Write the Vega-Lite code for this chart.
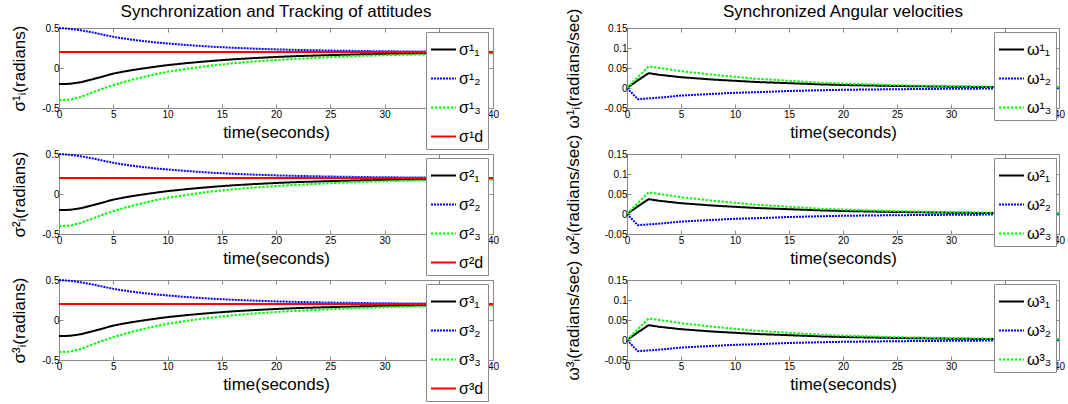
{
  "$schema": "https://vega.github.io/schema/vega-lite/v6.json",
  "background": "white",
  "padding": {"left": 10, "top": 2, "right": 5, "bottom": 5},
  "datasets": {
    "sig": [
      {"t": 0, "s": "1", "v": -0.2}, {"t": 1, "s": "1", "v": -0.198}, {"t": 2, "s": "1", "v": -0.178}, {"t": 3, "s": "1", "v": -0.145}, {"t": 4, "s": "1", "v": -0.108}, {"t": 5, "s": "1", "v": -0.07}, {"t": 6, "s": "1", "v": -0.044}, {"t": 7, "s": "1", "v": -0.021}, {"t": 8, "s": "1", "v": -0.001}, {"t": 9, "s": "1", "v": 0.018}, {"t": 10, "s": "1", "v": 0.036}, {"t": 12, "s": "1", "v": 0.064}, {"t": 14, "s": "1", "v": 0.088}, {"t": 16, "s": "1", "v": 0.108}, {"t": 18, "s": "1", "v": 0.124}, {"t": 20, "s": "1", "v": 0.138}, {"t": 22, "s": "1", "v": 0.149}, {"t": 25, "s": "1", "v": 0.161}, {"t": 28, "s": "1", "v": 0.171}, {"t": 31, "s": "1", "v": 0.179}, {"t": 34, "s": "1", "v": 0.185}, {"t": 37, "s": "1", "v": 0.19}, {"t": 40, "s": "1", "v": 0.193},
      {"t": 0, "s": "2", "v": 0.5}, {"t": 1, "s": "2", "v": 0.49}, {"t": 2, "s": "2", "v": 0.472}, {"t": 3, "s": "2", "v": 0.448}, {"t": 4, "s": "2", "v": 0.418}, {"t": 5, "s": "2", "v": 0.39}, {"t": 6, "s": "2", "v": 0.368}, {"t": 7, "s": "2", "v": 0.349}, {"t": 8, "s": "2", "v": 0.333}, {"t": 9, "s": "2", "v": 0.319}, {"t": 10, "s": "2", "v": 0.306}, {"t": 12, "s": "2", "v": 0.285}, {"t": 14, "s": "2", "v": 0.267}, {"t": 16, "s": "2", "v": 0.253}, {"t": 18, "s": "2", "v": 0.242}, {"t": 20, "s": "2", "v": 0.233}, {"t": 22, "s": "2", "v": 0.226}, {"t": 25, "s": "2", "v": 0.218}, {"t": 28, "s": "2", "v": 0.212}, {"t": 31, "s": "2", "v": 0.208}, {"t": 34, "s": "2", "v": 0.205}, {"t": 37, "s": "2", "v": 0.203}, {"t": 40, "s": "2", "v": 0.201},
      {"t": 0, "s": "3", "v": -0.4}, {"t": 1, "s": "3", "v": -0.396}, {"t": 2, "s": "3", "v": -0.362}, {"t": 3, "s": "3", "v": -0.31}, {"t": 4, "s": "3", "v": -0.26}, {"t": 5, "s": "3", "v": -0.215}, {"t": 6, "s": "3", "v": -0.175}, {"t": 7, "s": "3", "v": -0.138}, {"t": 8, "s": "3", "v": -0.105}, {"t": 9, "s": "3", "v": -0.075}, {"t": 10, "s": "3", "v": -0.048}, {"t": 12, "s": "3", "v": -0.005}, {"t": 14, "s": "3", "v": 0.03}, {"t": 16, "s": "3", "v": 0.058}, {"t": 18, "s": "3", "v": 0.082}, {"t": 20, "s": "3", "v": 0.1}, {"t": 22, "s": "3", "v": 0.115}, {"t": 25, "s": "3", "v": 0.135}, {"t": 28, "s": "3", "v": 0.152}, {"t": 31, "s": "3", "v": 0.163}, {"t": 34, "s": "3", "v": 0.171}, {"t": 37, "s": "3", "v": 0.177}, {"t": 40, "s": "3", "v": 0.182},
      {"t": 0, "s": "d", "v": 0.2}, {"t": 40, "s": "d", "v": 0.2}
    ],
    "om": [
      {"t": 0, "s": "1", "v": 0}, {"t": 1, "s": "1", "v": 0.019}, {"t": 2, "s": "1", "v": 0.037}, {"t": 3, "s": "1", "v": 0.033}, {"t": 4, "s": "1", "v": 0.03}, {"t": 5, "s": "1", "v": 0.027}, {"t": 6, "s": "1", "v": 0.025}, {"t": 8, "s": "1", "v": 0.021}, {"t": 10, "s": "1", "v": 0.018}, {"t": 12, "s": "1", "v": 0.015}, {"t": 15, "s": "1", "v": 0.012}, {"t": 18, "s": "1", "v": 0.009}, {"t": 20, "s": "1", "v": 0.0075}, {"t": 25, "s": "1", "v": 0.005}, {"t": 30, "s": "1", "v": 0.0033}, {"t": 35, "s": "1", "v": 0.002}, {"t": 40, "s": "1", "v": 0.0012},
      {"t": 0, "s": "2", "v": 0}, {"t": 1, "s": "2", "v": -0.028}, {"t": 2, "s": "2", "v": -0.026}, {"t": 3, "s": "2", "v": -0.024}, {"t": 5, "s": "2", "v": -0.019}, {"t": 7, "s": "2", "v": -0.016}, {"t": 10, "s": "2", "v": -0.012}, {"t": 12, "s": "2", "v": -0.0105}, {"t": 15, "s": "2", "v": -0.0075}, {"t": 18, "s": "2", "v": -0.0055}, {"t": 20, "s": "2", "v": -0.0045}, {"t": 25, "s": "2", "v": -0.003}, {"t": 30, "s": "2", "v": -0.002}, {"t": 35, "s": "2", "v": -0.0012}, {"t": 40, "s": "2", "v": -0.0008},
      {"t": 0, "s": "3", "v": 0}, {"t": 1, "s": "3", "v": 0.027}, {"t": 2, "s": "3", "v": 0.054}, {"t": 3, "s": "3", "v": 0.05}, {"t": 4, "s": "3", "v": 0.046}, {"t": 5, "s": "3", "v": 0.042}, {"t": 6, "s": "3", "v": 0.039}, {"t": 8, "s": "3", "v": 0.033}, {"t": 10, "s": "3", "v": 0.028}, {"t": 12, "s": "3", "v": 0.023}, {"t": 15, "s": "3", "v": 0.018}, {"t": 18, "s": "3", "v": 0.013}, {"t": 20, "s": "3", "v": 0.011}, {"t": 25, "s": "3", "v": 0.007}, {"t": 30, "s": "3", "v": 0.0045}, {"t": 35, "s": "3", "v": 0.0028}, {"t": 40, "s": "3", "v": 0.0016}
    ]
  },
  "columns": 2,
  "spacing": {"row": 46, "column": 134},
  "bounds": "flush",
  "resolve": {"scale": {"color": "independent", "strokeDash": "independent"}, "legend": {"color": "independent", "strokeDash": "independent"}},
  "concat": [
    {
      "width": 434, "height": 80,
      "title": "Synchronization and Tracking of attitudes",
      "data": {"name": "sig"},
      "layer": [
        {"mark": {"type": "line", "strokeWidth": 2},
         "encoding": {
           "x": {"field": "t", "type": "quantitative", "scale": {"domain": [0, 40], "nice": false}, "axis": {"values": [0, 5, 10, 15, 20, 25, 30, 35, 40], "title": "time(seconds)"}},
           "y": {"field": "v", "type": "quantitative", "scale": {"domain": [-0.5, 0.5], "nice": false, "zero": false}, "axis": {"values": [-0.5, 0, 0.5], "labelExpr": "'' + datum.value", "title": "σ¹ᵢ(radians)", "titlePadding": 13}},
           "color": {"field": "s", "type": "nominal", "scale": {"domain": ["1", "2", "3", "d"], "range": ["#000000", "#0000ff", "#00ff00", "#ff0000"]}, "legend": {"labelExpr": "datum.label == '1' ? 'σ¹₁' : datum.label == '2' ? 'σ¹₂' : datum.label == '3' ? 'σ¹₃' : 'σ¹d'"}},
           "strokeDash": {"field": "s", "type": "nominal", "scale": {"domain": ["1", "2", "3", "d"], "range": [[1, 0], [2, 1], [2.5, 1.5], [1, 0]]}, "legend": {"labelExpr": "datum.label == '1' ? 'σ¹₁' : datum.label == '2' ? 'σ¹₂' : datum.label == '3' ? 'σ¹₃' : 'σ¹d'"}}
         }},
        {"mark": {"type": "line", "strokeOpacity": 0},
         "encoding": {
           "x": {"field": "t", "type": "quantitative", "axis": {"orient": "top", "values": [0, 5, 10, 15, 20, 25, 30, 35, 40], "labels": false, "title": null}},
           "y": {"field": "v", "type": "quantitative", "axis": {"orient": "right", "values": [-0.5, 0, 0.5], "labels": false, "title": null}}
         }}
      ],
      "resolve": {"axis": {"x": "independent", "y": "independent"}}
    },
    {
      "width": 432, "height": 80,
      "title": {"text": "Synchronized Angular velocities", "dy": 15},
      "data": {"name": "om"},
      "layer": [
        {"mark": {"type": "line", "strokeWidth": 2},
         "encoding": {
           "x": {"field": "t", "type": "quantitative", "scale": {"domain": [0, 40], "nice": false}, "axis": {"values": [0, 5, 10, 15, 20, 25, 30, 35, 40], "title": "time(seconds)"}},
           "y": {"field": "v", "type": "quantitative", "scale": {"domain": [-0.05, 0.15], "nice": false, "zero": false}, "axis": {"values": [-0.05, 0, 0.05, 0.1, 0.15], "labelExpr": "'' + datum.value", "title": "ω¹ᵢ(radians/sec)", "titlePadding": 22}},
           "color": {"field": "s", "type": "nominal", "scale": {"domain": ["1", "2", "3"], "range": ["#000000", "#0000ff", "#00ff00"]}, "legend": {"labelExpr": "datum.label == '1' ? 'ω¹₁' : datum.label == '2' ? 'ω¹₂' : 'ω¹₃'"}},
           "strokeDash": {"field": "s", "type": "nominal", "scale": {"domain": ["1", "2", "3"], "range": [[1, 0], [2, 1], [2.5, 1.5]]}, "legend": {"labelExpr": "datum.label == '1' ? 'ω¹₁' : datum.label == '2' ? 'ω¹₂' : 'ω¹₃'"}}
         }},
        {"mark": {"type": "line", "strokeOpacity": 0},
         "encoding": {
           "x": {"field": "t", "type": "quantitative", "axis": {"orient": "top", "values": [0, 5, 10, 15, 20, 25, 30, 35, 40], "labels": false, "title": null}},
           "y": {"field": "v", "type": "quantitative", "axis": {"orient": "right", "values": [-0.05, 0, 0.05, 0.1, 0.15], "labels": false, "title": null}}
         }}
      ],
      "resolve": {"axis": {"x": "independent", "y": "independent"}}
    },
    {
      "width": 434, "height": 80,
      "data": {"name": "sig"},
      "layer": [
        {"mark": {"type": "line", "strokeWidth": 2},
         "encoding": {
           "x": {"field": "t", "type": "quantitative", "scale": {"domain": [0, 40], "nice": false}, "axis": {"values": [0, 5, 10, 15, 20, 25, 30, 35, 40], "title": "time(seconds)"}},
           "y": {"field": "v", "type": "quantitative", "scale": {"domain": [-0.5, 0.5], "nice": false, "zero": false}, "axis": {"values": [-0.5, 0, 0.5], "labelExpr": "'' + datum.value", "title": "σ²ᵢ(radians)", "titlePadding": 13}},
           "color": {"field": "s", "type": "nominal", "scale": {"domain": ["1", "2", "3", "d"], "range": ["#000000", "#0000ff", "#00ff00", "#ff0000"]}, "legend": {"labelExpr": "datum.label == '1' ? 'σ²₁' : datum.label == '2' ? 'σ²₂' : datum.label == '3' ? 'σ²₃' : 'σ²d'"}},
           "strokeDash": {"field": "s", "type": "nominal", "scale": {"domain": ["1", "2", "3", "d"], "range": [[1, 0], [2, 1], [2.5, 1.5], [1, 0]]}, "legend": {"labelExpr": "datum.label == '1' ? 'σ²₁' : datum.label == '2' ? 'σ²₂' : datum.label == '3' ? 'σ²₃' : 'σ²d'"}}
         }},
        {"mark": {"type": "line", "strokeOpacity": 0},
         "encoding": {
           "x": {"field": "t", "type": "quantitative", "axis": {"orient": "top", "values": [0, 5, 10, 15, 20, 25, 30, 35, 40], "labels": false, "title": null}},
           "y": {"field": "v", "type": "quantitative", "axis": {"orient": "right", "values": [-0.5, 0, 0.5], "labels": false, "title": null}}
         }}
      ],
      "resolve": {"axis": {"x": "independent", "y": "independent"}}
    },
    {
      "width": 432, "height": 80,
      "data": {"name": "om"},
      "layer": [
        {"mark": {"type": "line", "strokeWidth": 2},
         "encoding": {
           "x": {"field": "t", "type": "quantitative", "scale": {"domain": [0, 40], "nice": false}, "axis": {"values": [0, 5, 10, 15, 20, 25, 30, 35, 40], "title": "time(seconds)"}},
           "y": {"field": "v", "type": "quantitative", "scale": {"domain": [-0.05, 0.15], "nice": false, "zero": false}, "axis": {"values": [-0.05, 0, 0.05, 0.1, 0.15], "labelExpr": "'' + datum.value", "title": "ω²ᵢ(radians/sec)", "titlePadding": 22}},
           "color": {"field": "s", "type": "nominal", "scale": {"domain": ["1", "2", "3"], "range": ["#000000", "#0000ff", "#00ff00"]}, "legend": {"labelExpr": "datum.label == '1' ? 'ω²₁' : datum.label == '2' ? 'ω²₂' : 'ω²₃'"}},
           "strokeDash": {"field": "s", "type": "nominal", "scale": {"domain": ["1", "2", "3"], "range": [[1, 0], [2, 1], [2.5, 1.5]]}, "legend": {"labelExpr": "datum.label == '1' ? 'ω²₁' : datum.label == '2' ? 'ω²₂' : 'ω²₃'"}}
         }},
        {"mark": {"type": "line", "strokeOpacity": 0},
         "encoding": {
           "x": {"field": "t", "type": "quantitative", "axis": {"orient": "top", "values": [0, 5, 10, 15, 20, 25, 30, 35, 40], "labels": false, "title": null}},
           "y": {"field": "v", "type": "quantitative", "axis": {"orient": "right", "values": [-0.05, 0, 0.05, 0.1, 0.15], "labels": false, "title": null}}
         }}
      ],
      "resolve": {"axis": {"x": "independent", "y": "independent"}}
    },
    {
      "width": 434, "height": 80,
      "data": {"name": "sig"},
      "layer": [
        {"mark": {"type": "line", "strokeWidth": 2},
         "encoding": {
           "x": {"field": "t", "type": "quantitative", "scale": {"domain": [0, 40], "nice": false}, "axis": {"values": [0, 5, 10, 15, 20, 25, 30, 35, 40], "title": "time(seconds)"}},
           "y": {"field": "v", "type": "quantitative", "scale": {"domain": [-0.5, 0.5], "nice": false, "zero": false}, "axis": {"values": [-0.5, 0, 0.5], "labelExpr": "'' + datum.value", "title": "σ³ᵢ(radians)", "titlePadding": 13}},
           "color": {"field": "s", "type": "nominal", "scale": {"domain": ["1", "2", "3", "d"], "range": ["#000000", "#0000ff", "#00ff00", "#ff0000"]}, "legend": {"labelExpr": "datum.label == '1' ? 'σ³₁' : datum.label == '2' ? 'σ³₂' : datum.label == '3' ? 'σ³₃' : 'σ³d'"}},
           "strokeDash": {"field": "s", "type": "nominal", "scale": {"domain": ["1", "2", "3", "d"], "range": [[1, 0], [2, 1], [2.5, 1.5], [1, 0]]}, "legend": {"labelExpr": "datum.label == '1' ? 'σ³₁' : datum.label == '2' ? 'σ³₂' : datum.label == '3' ? 'σ³₃' : 'σ³d'"}}
         }},
        {"mark": {"type": "line", "strokeOpacity": 0},
         "encoding": {
           "x": {"field": "t", "type": "quantitative", "axis": {"orient": "top", "values": [0, 5, 10, 15, 20, 25, 30, 35, 40], "labels": false, "title": null}},
           "y": {"field": "v", "type": "quantitative", "axis": {"orient": "right", "values": [-0.5, 0, 0.5], "labels": false, "title": null}}
         }}
      ],
      "resolve": {"axis": {"x": "independent", "y": "independent"}}
    },
    {
      "width": 432, "height": 80,
      "data": {"name": "om"},
      "layer": [
        {"mark": {"type": "line", "strokeWidth": 2},
         "encoding": {
           "x": {"field": "t", "type": "quantitative", "scale": {"domain": [0, 40], "nice": false}, "axis": {"values": [0, 5, 10, 15, 20, 25, 30, 35, 40], "title": "time(seconds)"}},
           "y": {"field": "v", "type": "quantitative", "scale": {"domain": [-0.05, 0.15], "nice": false, "zero": false}, "axis": {"values": [-0.05, 0, 0.05, 0.1, 0.15], "labelExpr": "'' + datum.value", "title": "ω³ᵢ(radians/sec)", "titlePadding": 22}},
           "color": {"field": "s", "type": "nominal", "scale": {"domain": ["1", "2", "3"], "range": ["#000000", "#0000ff", "#00ff00"]}, "legend": {"labelExpr": "datum.label == '1' ? 'ω³₁' : datum.label == '2' ? 'ω³₂' : 'ω³₃'"}},
           "strokeDash": {"field": "s", "type": "nominal", "scale": {"domain": ["1", "2", "3"], "range": [[1, 0], [2, 1], [2.5, 1.5]]}, "legend": {"labelExpr": "datum.label == '1' ? 'ω³₁' : datum.label == '2' ? 'ω³₂' : 'ω³₃'"}}
         }},
        {"mark": {"type": "line", "strokeOpacity": 0},
         "encoding": {
           "x": {"field": "t", "type": "quantitative", "axis": {"orient": "top", "values": [0, 5, 10, 15, 20, 25, 30, 35, 40], "labels": false, "title": null}},
           "y": {"field": "v", "type": "quantitative", "axis": {"orient": "right", "values": [-0.05, 0, 0.05, 0.1, 0.15], "labels": false, "title": null}}
         }}
      ],
      "resolve": {"axis": {"x": "independent", "y": "independent"}}
    }
  ],
  "config": {
    "font": "Liberation Sans",
    "view": {"stroke": "#8a8a8a", "fill": "white"},
    "axis": {"domain": false, "grid": false, "tickColor": "#8a8a8a", "tickSize": -4, "labelFontSize": 10, "labelColor": "#000000", "labelPadding": 4, "labelFlush": false, "titleFontSize": 17, "titleFontWeight": "normal", "titleColor": "#000000"},
    "axisX": {"titlePadding": 5, "labelPadding": 5},
    "title": {"fontSize": 17, "fontWeight": "normal", "color": "#000000", "anchor": "middle", "offset": 2},
    "legend": {"orient": "none", "legendX": 367, "legendY": 4, "title": null, "symbolType": "stroke", "symbolSize": 625, "symbolStrokeWidth": 2, "labelFontSize": 16, "labelColor": "#000000", "labelOffset": 2, "padding": 4, "rowPadding": 7, "strokeColor": "#8a8a8a", "fillColor": "white", "cornerRadius": 0}
  }
}
